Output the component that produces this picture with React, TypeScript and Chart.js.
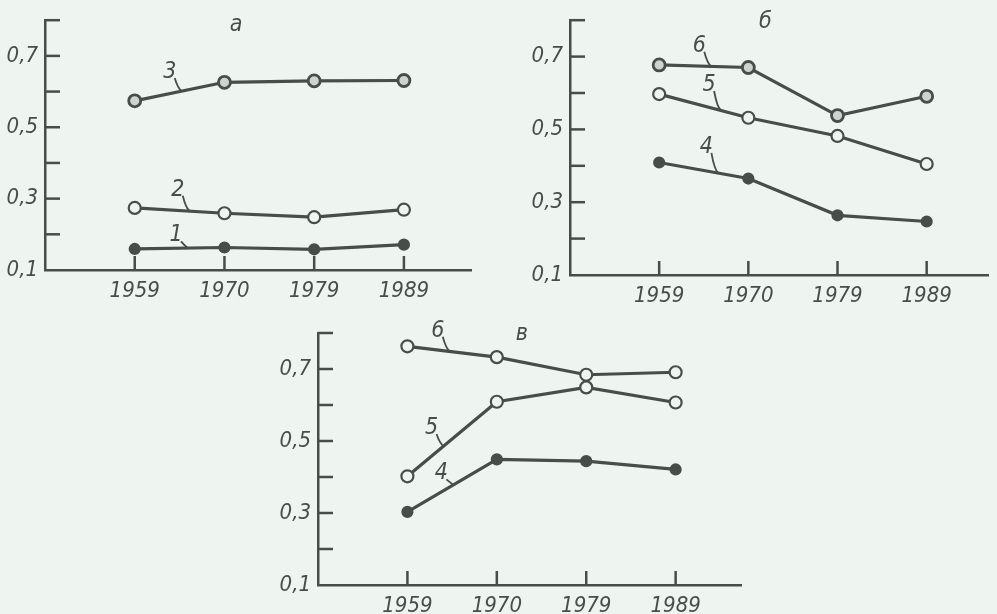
import { useEffect, useRef } from "react";
import { Chart, registerables } from "chart.js";

Chart.register(...registerables);

// ---------- data ----------
const years = ["1959", "1970", "1979", "1989"];
const yLabelValues = [0.1, 0.3, 0.5, 0.7];
const yTickLabels = ["0,1", "0,3", "0,5", "0,7"];
const yInnerTicks = [0.2, 0.3, 0.4, 0.5, 0.6, 0.7, 0.8];

// panel а
const a1 = [0.159, 0.163, 0.158, 0.171];
const a2 = [0.274, 0.259, 0.248, 0.269];
const a3 = [0.574, 0.626, 0.63, 0.631];
// panel б
const b4 = [0.409, 0.365, 0.264, 0.247];
const b5 = [0.597, 0.532, 0.482, 0.405];
const b6 = [0.677, 0.67, 0.538, 0.591];
// panel в
const c4 = [0.303, 0.449, 0.444, 0.421];
const c5 = [0.402, 0.609, 0.649, 0.607];
const c6 = [0.763, 0.733, 0.684, 0.691];

// ---------- style ----------
const INK = "#474d48";
const BG = "#eef5f1";
const HALF = "#cdd3ce";
const FONT = "'Liberation Sans Narrow', 'DejaVu Sans Condensed', 'Liberation Sans', sans-serif";

type LabelSpec = { text: string; series: number; i: number; v: number };
type MarkerKind = "filled" | "open" | "half";
type SeriesSpec = { values: number[]; marker: MarkerKind };

type PanelSpec = {
  left: number;
  top: number;
  width: number;
  height: number;
  yAxisWidth: number;
  xAxisHeight: number;
  padTop: number;
  padRight: number;
  xMax: number;
  series: SeriesSpec[];
  labels: LabelSpec[];
  title: { text: string; i: number; v: number };
};

function interp(values: number[], i: number) {
  const k = Math.max(0, Math.min(values.length - 2, Math.floor(i)));
  const t = i - k;
  return values[k] + (values[k + 1] - values[k]) * t;
}

const decorPlugin = {
  id: "decor",
  afterDraw(chart: any, _args: any, opts: any) {
    const { ctx, chartArea } = chart;
    const x = chart.scales.x;
    const y = chart.scales.y;
    ctx.save();
    ctx.strokeStyle = INK;
    ctx.lineWidth = 2.5;
    ctx.lineCap = "butt";
    for (const v of yInnerTicks) {
      const py = y.getPixelForValue(v);
      ctx.beginPath();
      ctx.moveTo(chartArea.left, py);
      ctx.lineTo(chartArea.left + 15, py);
      ctx.stroke();
    }
    years.forEach((_, i) => {
      const px = x.getPixelForValue(i);
      ctx.beginPath();
      ctx.moveTo(px, chartArea.bottom);
      ctx.lineTo(px, chartArea.bottom - 14);
      ctx.stroke();
    });

    ctx.fillStyle = INK;
    ctx.textAlign = "center";
    ctx.textBaseline = "middle";
    ctx.font = `italic 23px ${FONT}`;
    for (const l of opts.labels as LabelSpec[]) {
      const tx = x.getPixelForValue(l.i);
      const ty = y.getPixelForValue(l.v);
      ctx.fillText(l.text, tx, ty);
      const values = (chart.data.datasets[l.series].data as any[]).map((d) => d.y);
      const ex = tx + 12;
      const ev = interp(values, x.getValueForPixel(ex));
      const ey = y.getPixelForValue(ev);
      ctx.lineWidth = 1.8;
      ctx.beginPath();
      ctx.moveTo(tx + 5, ty + 6);
      ctx.quadraticCurveTo(tx + 8, ey - 3, ex, ey);
      ctx.stroke();
    }
    const t = opts.title;
    ctx.font = `italic 23px ${FONT}`;
    ctx.fillText(t.text, x.getPixelForValue(t.i), y.getPixelForValue(t.v));
    ctx.restore();
  },
};

const panels: PanelSpec[] = [
  {
    left: 0,
    top: 0,
    width: 480,
    height: 300,
    yAxisWidth: 45,
    xAxisHeight: 30,
    padTop: 18,
    padRight: 7,
    xMax: 3.75,
    series: [
      { values: a1, marker: "filled" },
      { values: a2, marker: "open" },
      { values: a3, marker: "half" },
    ],
    labels: [
      { text: "1", series: 0, i: 0.46, v: 0.197 },
      { text: "2", series: 1, i: 0.48, v: 0.325 },
      { text: "3", series: 2, i: 0.39, v: 0.655 },
    ],
    title: { text: "а", i: 1.13, v: 0.786 },
  },
  {
    left: 520,
    top: 0,
    width: 477,
    height: 305,
    yAxisWidth: 50,
    xAxisHeight: 30,
    padTop: 18,
    padRight: 0,
    xMax: 3.69,
    series: [
      { values: b4, marker: "filled" },
      { values: b5, marker: "open" },
      { values: b6, marker: "half" },
    ],
    labels: [
      { text: "4", series: 0, i: 0.53, v: 0.452 },
      { text: "5", series: 1, i: 0.56, v: 0.622 },
      { text: "6", series: 2, i: 0.45, v: 0.73 },
    ],
    title: { text: "б", i: 1.19, v: 0.795 },
  },
  {
    left: 280,
    top: 310,
    width: 470,
    height: 304,
    yAxisWidth: 38,
    xAxisHeight: 29,
    padTop: 23,
    padRight: 5,
    xMax: 3.74,
    series: [
      { values: c4, marker: "filled" },
      { values: c5, marker: "open" },
      { values: c6, marker: "open" },
    ],
    labels: [
      { text: "4", series: 0, i: 0.38, v: 0.41 },
      { text: "5", series: 1, i: 0.27, v: 0.536 },
      { text: "6", series: 2, i: 0.34, v: 0.806 },
    ],
    title: { text: "в", i: 1.28, v: 0.798 },
  },
];

function Panel({ spec }: { spec: PanelSpec }) {
  const ref = useRef<HTMLCanvasElement | null>(null);
  useEffect(() => {
    if (!ref.current) return;
    const chart = new Chart(ref.current, {
      type: "line",
      data: {
        datasets: spec.series.map((s) => ({
          data: s.values.map((v, i) => ({ x: i, y: v })),
          borderColor: INK,
          borderWidth: 3.2,
          tension: 0,
          pointRadius: s.marker === "filled" ? 5 : 6,
          pointBorderWidth: s.marker === "half" ? 2.8 : 2.2,
          pointBorderColor: INK,
          pointBackgroundColor: s.marker === "filled" ? INK : s.marker === "half" ? HALF : BG,
          fill: false,
        })),
      },
      options: {
        animation: false,
        responsive: false,
        maintainAspectRatio: false,
        layout: { padding: { top: spec.padTop, right: spec.padRight, left: 0, bottom: 0 } },
        plugins: {
          legend: { display: false },
          tooltip: { enabled: false },
          decor: { labels: spec.labels, title: spec.title },
        } as any,
        scales: {
          x: {
            type: "linear",
            min: -1,
            max: spec.xMax,
            grid: { display: false, drawTicks: false },
            border: { display: true, color: INK, width: 2.5 },
            ticks: {
              color: INK,
              padding: 8,
              autoSkip: false,
              maxRotation: 0,
              font: { family: FONT, size: 22, style: "italic" },
              callback: (v: any) => years[v as number] ?? "",
            },
            afterBuildTicks: (s: any) => {
              s.ticks = years.map((_, i) => ({ value: i }));
            },
            afterFit: (s: any) => {
              s.height = spec.xAxisHeight;
            },
          },
          y: {
            type: "linear",
            min: 0.1,
            max: 0.8,
            grid: { display: false, drawTicks: false },
            border: { display: true, color: INK, width: 2.5 },
            ticks: {
              color: INK,
              padding: 7,
              font: { family: FONT, size: 22, style: "italic" },
              callback: (v: any) => {
                const k = yLabelValues.findIndex((t) => Math.abs(t - (v as number)) < 1e-9);
                return k >= 0 ? yTickLabels[k] : "";
              },
            },
            afterBuildTicks: (s: any) => {
              s.ticks = yLabelValues.map((v) => ({ value: v }));
            },
            afterFit: (s: any) => {
              s.width = spec.yAxisWidth;
            },
          },
        },
      },
      plugins: [decorPlugin],
    } as any);
    return () => chart.destroy();
  }, [spec]);
  return (
    <canvas
      ref={ref}
      width={spec.width}
      height={spec.height}
      style={{ position: "absolute", left: spec.left, top: spec.top, width: spec.width, height: spec.height }}
    />
  );
}

export default function App() {
  useEffect(() => {
    document.body.style.margin = "0";
    document.body.style.background = BG;
  }, []);
  return (
    <div style={{ position: "absolute", left: 0, top: 0, width: 997, height: 614, background: BG, overflow: "hidden" }}>
      {panels.map((p, k) => (
        <Panel key={k} spec={p} />
      ))}
    </div>
  );
}
